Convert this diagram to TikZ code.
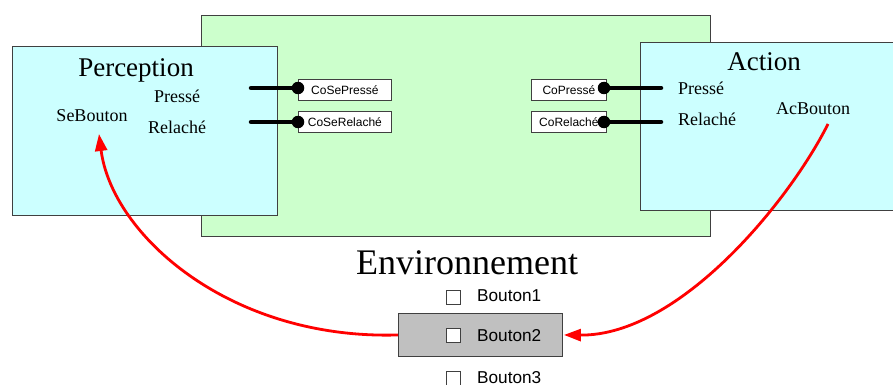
\documentclass[tikz,border=0pt]{standalone}
\usepackage{fontspec}
\setmainfont{Liberation Serif}
\setsansfont{Liberation Sans}
\usetikzlibrary{arrows.meta}
\definecolor{vert}{HTML}{CCFFCC}
\definecolor{cyanpale}{HTML}{CCFFFF}
\definecolor{gris}{HTML}{C0C0C0}
\definecolor{bord}{HTML}{404040}
\tikzset{
  region/.style={draw=bord, line width=0.9pt, anchor=north west, inner sep=0pt},
  titre/.style={font=\fontsize{27}{27}\selectfont, inner sep=0pt},
  port/.style={font=\fontsize{18}{18}\selectfont, inner sep=0pt},
  cobox/.style={draw=bord, fill=white, line width=0.8pt, minimum height=21pt, inner sep=0pt, anchor=north west, font=\sffamily\fontsize{12}{12}\selectfont},
  pin/.style={circle, fill=black, minimum size=12.5pt, inner sep=0pt},
  wire/.style={line width=4.5pt, line cap=round},
  cb/.style={draw=bord, fill=white, line width=0.8pt, minimum size=14pt, inner sep=0pt},
  btxt/.style={font=\sffamily\fontsize{17.2}{17.2}\selectfont, inner sep=0pt, anchor=west},
  rouge/.style={draw=red, line width=2.8pt, -{Triangle[length=17pt,width=12pt]}}
}
\begin{document}
\begin{tikzpicture}[x=1pt,y=-1pt]
\useasboundingbox (0,0) rectangle (893,385);
% boxes
\node[region, fill=vert, minimum width=509pt, minimum height=221pt] (milieu) at (201,15) {};
\node[region, fill=cyanpale, minimum width=265pt, minimum height=169pt] (perc) at (12,46) {};
\node[region, fill=cyanpale, minimum width=256pt, minimum height=168pt] (act) at (640,42) {};
% titles
\node[titre] (tperc) at (136,70) {Perception};
\node[titre] (tact) at (764,62) {Action};
\node[font=\fontsize{36}{36}\selectfont, inner sep=0pt] (tenv) at (467,263) {Environnement};
% perception ports
\node[port] (ppresse) at (177,96) {Pressé};
\node[port] (prelache) at (177,127) {Relaché};
\node[port] (sebouton) at (92,116) {SeBouton};
% action ports
\node[port] (apresse) at (701,88) {Pressé};
\node[port] (arelache) at (707,119) {Relaché};
\node[port] (acbouton) at (813,109) {AcBouton};
% co boxes
\node[cobox, minimum width=93pt] (cosepresse) at (298,79) {CoSePressé};
\node[cobox, minimum width=93pt] (coserelache) at (298,111) {CoSeRelaché};
\node[cobox, minimum width=75pt] (copresse) at (531,79) {CoPressé};
\node[cobox, minimum width=75pt] (corelache) at (531,111) {CoRelaché};
% pins
\node[pin] (d1) at (298,88) {};
\node[pin] (d2) at (298,122) {};
\node[pin] (d3) at (604,88) {};
\node[pin] (d4) at (604,122) {};
\coordinate (w1) at (251,88);
\coordinate (w2) at (251,122);
\coordinate (w3) at (661,88);
\coordinate (w4) at (661,122);
\draw[wire] (w1) -- (d1.center);
\draw[wire] (w2) -- (d2.center);
\draw[wire] (d3.center) -- (w3);
\draw[wire] (d4.center) -- (w4);
% environnement
\node[draw=bord, fill=gris, line width=0.9pt, minimum width=164pt, minimum height=43pt, inner sep=0pt, anchor=north west] (b2box) at (398,313) {};
\node[cb] (cb1) at (453.5,297.5) {};
\node[cb] (cb2) at (453.5,335.5) {};
\node[cb] (cb3) at (453.5,378.5) {};
\node[btxt] (bt1) at (477,296) {Bouton1};
\node[btxt] (bt2) at (477,336) {Bouton2};
\node[btxt] (bt3) at (477,377.5) {Bouton3};
% red arrows
\coordinate (acfoot) at (828,124);
\coordinate (seb) at (99,134);
\draw[rouge] (b2box.west) .. controls (230,340) and (112,235) .. (seb);
\draw[rouge] (acfoot) .. controls (790,200) and (680,336) .. ([xshift=1pt]b2box.east);
\end{tikzpicture}
\end{document}
